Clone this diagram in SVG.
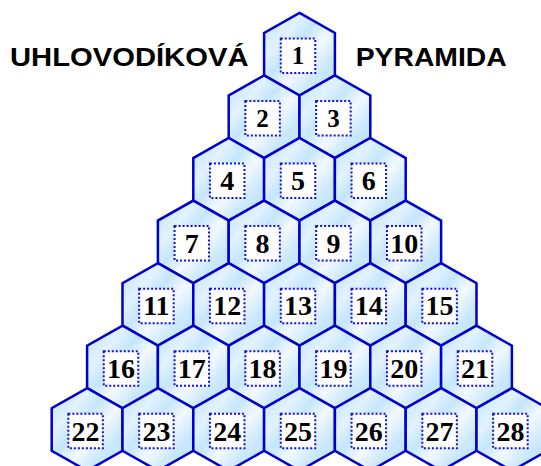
<svg xmlns="http://www.w3.org/2000/svg" xmlns:xlink="http://www.w3.org/1999/xlink" width="541" height="466" viewBox="0 0 541 466">
<defs>
<linearGradient id="hg" x1="0" y1="0" x2="1" y2="1">
<stop offset="0" stop-color="#bde2fd"/>
<stop offset="0.28" stop-color="#e2f2ff"/>
<stop offset="0.42" stop-color="#c6e6fd"/>
<stop offset="0.58" stop-color="#f2f9ff"/>
<stop offset="0.76" stop-color="#cbe8fd"/>
<stop offset="1" stop-color="#b8e0fc"/>
</linearGradient>
<polygon id="hex" points="0,-41.3 35.4,-21.25 35.4,21.25 0,41.3 -35.4,21.25 -35.4,-21.25" fill="url(#hg)" stroke="#0000cc" stroke-width="2.5" stroke-linejoin="miter"/>
<style>
.box{fill:#ffffff;stroke:#1010e0;stroke-width:2;stroke-dasharray:2 2}
.num{font-family:"Liberation Serif","Times New Roman",serif;font-weight:bold;font-size:28px;text-anchor:middle;fill:#000}
.sm{font-size:25px}
.title{font-family:"Liberation Sans",Arial,sans-serif;font-weight:bold;font-size:25px;fill:#000}
</style>
</defs>
<rect width="541" height="466" fill="#ffffff"/>
<text class="title" x="10" y="66" textLength="238.5" lengthAdjust="spacingAndGlyphs">UHLOVODÍKOVÁ</text>
<text class="title" x="355.7" y="66" textLength="151" lengthAdjust="spacingAndGlyphs">PYRAMIDA</text>
<g id="connectors"/>
<g id="n1" transform="translate(299.5,54.2)"><use xlink:href="#hex"/><rect class="box" x="-18.75" y="-15.75" width="34.5" height="34.5"/><text class="num sm" x="-1.5" y="10.2">1</text></g>
<g id="n2" transform="translate(264.1,116.75)"><use xlink:href="#hex"/><rect class="box" x="-18.75" y="-15.75" width="34.5" height="34.5"/><text class="num sm" x="-1.5" y="10.2">2</text></g>
<g id="n3" transform="translate(334.9,116.75)"><use xlink:href="#hex"/><rect class="box" x="-18.75" y="-15.75" width="34.5" height="34.5"/><text class="num sm" x="-1.5" y="10.2">3</text></g>
<g id="n4" transform="translate(228.7,179.3)"><use xlink:href="#hex"/><rect class="box" x="-18.75" y="-15.75" width="34.5" height="34.5"/><text class="num" x="-1.5" y="11">4</text></g>
<g id="n5" transform="translate(299.5,179.3)"><use xlink:href="#hex"/><rect class="box" x="-18.75" y="-15.75" width="34.5" height="34.5"/><text class="num" x="-1.5" y="11">5</text></g>
<g id="n6" transform="translate(370.3,179.3)"><use xlink:href="#hex"/><rect class="box" x="-18.75" y="-15.75" width="34.5" height="34.5"/><text class="num" x="-1.5" y="11">6</text></g>
<g id="n7" transform="translate(193.3,241.85)"><use xlink:href="#hex"/><rect class="box" x="-18.75" y="-15.75" width="34.5" height="34.5"/><text class="num" x="-1.5" y="11">7</text></g>
<g id="n8" transform="translate(264.1,241.85)"><use xlink:href="#hex"/><rect class="box" x="-18.75" y="-15.75" width="34.5" height="34.5"/><text class="num" x="-1.5" y="11">8</text></g>
<g id="n9" transform="translate(334.9,241.85)"><use xlink:href="#hex"/><rect class="box" x="-18.75" y="-15.75" width="34.5" height="34.5"/><text class="num" x="-1.5" y="11">9</text></g>
<g id="n10" transform="translate(405.7,241.85)"><use xlink:href="#hex"/><rect class="box" x="-18.75" y="-15.75" width="34.5" height="34.5"/><text class="num" x="-1.5" y="11">10</text></g>
<g id="n11" transform="translate(157.9,304.4)"><use xlink:href="#hex"/><rect class="box" x="-18.75" y="-15.75" width="34.5" height="34.5"/><text class="num" x="-1.5" y="11">11</text></g>
<g id="n12" transform="translate(228.7,304.4)"><use xlink:href="#hex"/><rect class="box" x="-18.75" y="-15.75" width="34.5" height="34.5"/><text class="num" x="-1.5" y="11">12</text></g>
<g id="n13" transform="translate(299.5,304.4)"><use xlink:href="#hex"/><rect class="box" x="-18.75" y="-15.75" width="34.5" height="34.5"/><text class="num" x="-1.5" y="11">13</text></g>
<g id="n14" transform="translate(370.3,304.4)"><use xlink:href="#hex"/><rect class="box" x="-18.75" y="-15.75" width="34.5" height="34.5"/><text class="num" x="-1.5" y="11">14</text></g>
<g id="n15" transform="translate(441.1,304.4)"><use xlink:href="#hex"/><rect class="box" x="-18.75" y="-15.75" width="34.5" height="34.5"/><text class="num" x="-1.5" y="11">15</text></g>
<g id="n16" transform="translate(122.5,366.95)"><use xlink:href="#hex"/><rect class="box" x="-18.75" y="-15.75" width="34.5" height="34.5"/><text class="num" x="-1.5" y="11">16</text></g>
<g id="n17" transform="translate(193.3,366.95)"><use xlink:href="#hex"/><rect class="box" x="-18.75" y="-15.75" width="34.5" height="34.5"/><text class="num" x="-1.5" y="11">17</text></g>
<g id="n18" transform="translate(264.1,366.95)"><use xlink:href="#hex"/><rect class="box" x="-18.75" y="-15.75" width="34.5" height="34.5"/><text class="num" x="-1.5" y="11">18</text></g>
<g id="n19" transform="translate(334.9,366.95)"><use xlink:href="#hex"/><rect class="box" x="-18.75" y="-15.75" width="34.5" height="34.5"/><text class="num" x="-1.5" y="11">19</text></g>
<g id="n20" transform="translate(405.7,366.95)"><use xlink:href="#hex"/><rect class="box" x="-18.75" y="-15.75" width="34.5" height="34.5"/><text class="num" x="-1.5" y="11">20</text></g>
<g id="n21" transform="translate(476.5,366.95)"><use xlink:href="#hex"/><rect class="box" x="-18.75" y="-15.75" width="34.5" height="34.5"/><text class="num" x="-1.5" y="11">21</text></g>
<g id="n22" transform="translate(87.1,429.5)"><use xlink:href="#hex"/><rect class="box" x="-18.75" y="-15.75" width="34.5" height="34.5"/><text class="num" x="-1.5" y="11">22</text></g>
<g id="n23" transform="translate(157.9,429.5)"><use xlink:href="#hex"/><rect class="box" x="-18.75" y="-15.75" width="34.5" height="34.5"/><text class="num" x="-1.5" y="11">23</text></g>
<g id="n24" transform="translate(228.7,429.5)"><use xlink:href="#hex"/><rect class="box" x="-18.75" y="-15.75" width="34.5" height="34.5"/><text class="num" x="-1.5" y="11">24</text></g>
<g id="n25" transform="translate(299.5,429.5)"><use xlink:href="#hex"/><rect class="box" x="-18.75" y="-15.75" width="34.5" height="34.5"/><text class="num" x="-1.5" y="11">25</text></g>
<g id="n26" transform="translate(370.3,429.5)"><use xlink:href="#hex"/><rect class="box" x="-18.75" y="-15.75" width="34.5" height="34.5"/><text class="num" x="-1.5" y="11">26</text></g>
<g id="n27" transform="translate(441.1,429.5)"><use xlink:href="#hex"/><rect class="box" x="-18.75" y="-15.75" width="34.5" height="34.5"/><text class="num" x="-1.5" y="11">27</text></g>
<g id="n28" transform="translate(511.9,429.5)"><use xlink:href="#hex"/><rect class="box" x="-18.75" y="-15.75" width="34.5" height="34.5"/><text class="num" x="-1.5" y="11">28</text></g>
</svg>
